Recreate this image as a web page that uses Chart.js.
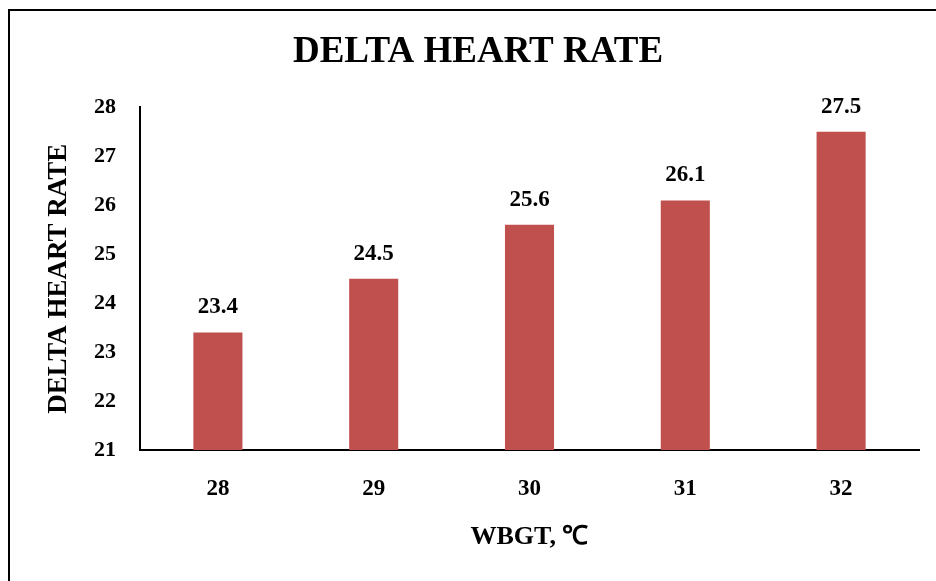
<!DOCTYPE html>
<html>
<head>
<meta charset="utf-8">
<script src="https://cdn.jsdelivr.net/npm/chart.js@4.4.1/dist/chart.umd.min.js"></script>
<style>
  body { margin: 0; background: #fff; }
  #wrap { position: relative; width: 936px; height: 581px; overflow: hidden; }
  #frame { position: absolute; left: 8px; top: 9px; width: 1000px; height: 1000px;
           border: 2.5px solid #000; pointer-events: none; }
</style>
</head>
<body>
<div id="wrap">
  <canvas id="heart-chart" width="936" height="581"></canvas>
  <div id="frame"></div>
</div>
<script>
const wbgt = ['28', '29', '30', '31', '32'];
const deltaHeartRate = [23.4, 24.5, 25.6, 26.1, 27.5];
const yMin = 21;
const yMax = 28;

const serif = "'Liberation Serif', 'Times New Roman', serif";

// value labels above each bar (no datalabels plugin offline)
const barLabels = {
  id: 'barLabels',
  afterDatasetsDraw(chart) {
    const ctx = chart.ctx;
    const meta = chart.getDatasetMeta(0);
    ctx.save();
    ctx.font = 'bold 23px ' + serif;
    ctx.fillStyle = '#000';
    ctx.textAlign = 'center';
    ctx.textBaseline = 'middle';
    meta.data.forEach((bar, i) => {
      ctx.fillText(deltaHeartRate[i].toFixed(1), bar.x, bar.y - 25);
    });
    ctx.restore();
  }
};

const heartCtx = document.getElementById('heart-chart').getContext('2d');
const heartChart = new Chart(heartCtx, {
  type: 'bar',
  data: {
    labels: wbgt,
    datasets: [{
      label: 'Delta heart rate',
      data: deltaHeartRate,
      backgroundColor: '#C0504D',
      borderWidth: 0,
      categoryPercentage: 1,
      barPercentage: 0.315
    }]
  },
  options: {
    responsive: false,
    animation: false,
    devicePixelRatio: 1,
    layout: {
      // left padding shifts the centred title to the right
      padding: { left: 37, right: 17, top: 0, bottom: 0 }
    },
    scales: {
      x: {
        grid: { display: false, drawTicks: false },
        border: { display: true, color: '#000', width: 2 },
        ticks: {
          color: '#000',
          padding: 25,
          font: { family: serif, size: 23, weight: 'bold' }
        },
        title: {
          display: true,
          text: 'WBGT, ℃',
          color: '#000',
          padding: { top: 0, bottom: 28 },
          font: { family: serif, size: 26, weight: 'bold' }
        },
        afterFit(scale) { scale.height = 131; }
      },
      y: {
        min: yMin,
        max: yMax,
        grid: { display: false, drawTicks: false },
        border: { display: true, color: '#000', width: 2 },
        ticks: {
          stepSize: 1,
          color: '#000',
          padding: 24,
          font: { family: serif, size: 22, weight: 'bold' }
        },
        title: {
          display: true,
          text: 'DELTA HEART RATE',
          color: '#000',
          padding: { top: 6, bottom: 0 },
          font: { family: serif, size: 27, weight: 'bold' }
        },
        afterFit(scale) { scale.width = 103; }
      }
    },
    plugins: {
      legend: { display: false },
      tooltip: { enabled: false },
      title: {
        display: true,
        text: 'DELTA HEART RATE',
        color: '#000',
        padding: { top: 30, bottom: 33 },
        font: { family: serif, size: 37, weight: 'bold' }
      }
    }
  },
  plugins: [barLabels]
});
</script>
</body>
</html>
